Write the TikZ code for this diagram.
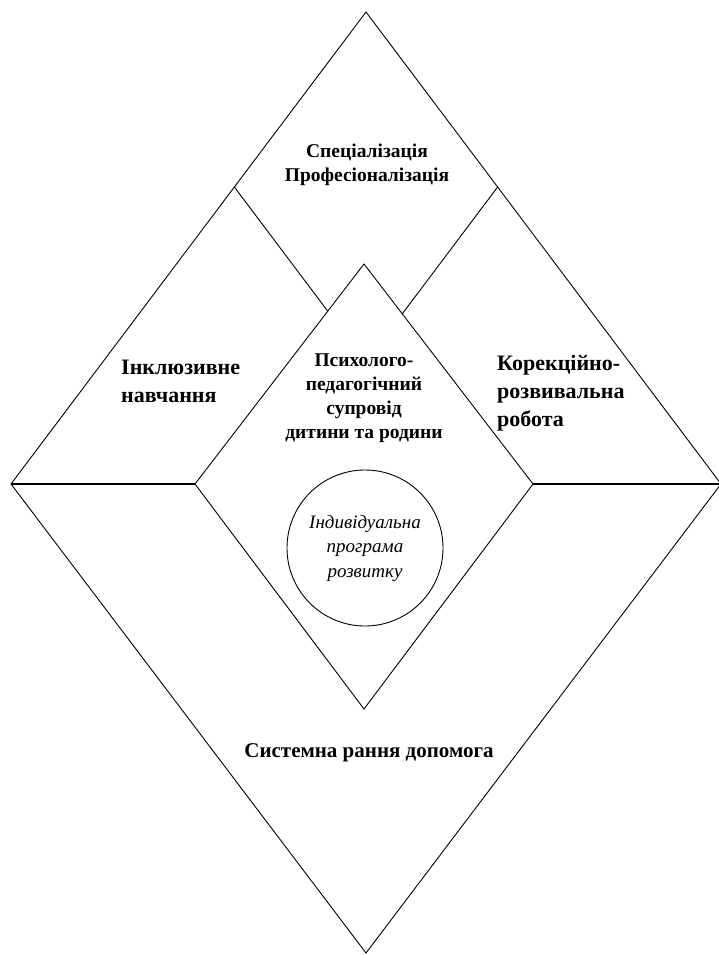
\documentclass[tikz,border=0pt]{standalone}
\usepackage{fontspec}
\setmainfont{Liberation Serif}
\usetikzlibrary{calc}
\begin{document}
\begin{tikzpicture}[x=1pt,y=-1pt,
  frame/.style={draw=black,line width=0.9pt,line join=miter},
  divider/.style={draw=black,line width=1.3pt},
  boldlabel/.style={font=\bfseries\fontsize{22}{28}\selectfont,align=left,inner sep=0pt},
  midlabel/.style={font=\bfseries\fontsize{19.5}{24}\selectfont,align=center,inner sep=0pt},
  circlabel/.style={font=\itshape\fontsize{19}{24.5}\selectfont,align=center,inner sep=0pt}]
\useasboundingbox (0,0) rectangle (718,955);
% outer diamond
\coordinate (OT) at (366,12);
\coordinate (OL) at (11,484);
\coordinate (OR) at (721,484);
\coordinate (OB) at (366,953);
% inner diamond
\coordinate (IT) at (364,264);
\coordinate (IL) at (195,484);
\coordinate (IR) at (533,484);
\coordinate (IB) at (364,709);
% break points on outer upper edges
\coordinate (UL) at ($(OT)!0.3708!(OL)$);
\coordinate (UR) at ($(OT)!0.3708!(OR)$);
\coordinate (ULd) at ($(UL)+(OR)-(OT)$);
\coordinate (URd) at ($(UR)+(OL)-(OT)$);
\coordinate (JL) at (intersection of UL--ULd and IT--IL);
\coordinate (JR) at (intersection of UR--URd and IT--IR);
\draw[frame] (OT) -- (OR) -- (OB) -- (OL) -- cycle;
\draw[frame] (IT) -- (IR) -- (IB) -- (IL) -- cycle;
\draw[frame] (UL) -- (JL);
\draw[frame] (UR) -- (JR);
\draw[divider] (OL) -- (IL);
\draw[divider] (IR) -- (OR);
\node[draw=black,line width=0.9pt,circle,minimum size=156pt,inner sep=0pt] (circ) at (365,548) {};
% labels
\node[midlabel] (spec) at (367,165) {Спеціалізація\\Професіоналізація};
\node[boldlabel,anchor=west] (incl) at (121,381.5) {Інклюзивне\\навчання};
\node[boldlabel,anchor=west] (korr) at (497,393.5) {Корекційно-\\розвивальна\\робота};
\node[midlabel] (psych) at (364,398.5) {Психолого-\\педагогічний\\супровід\\дитини та родини};
\node[circlabel] (prog) at (circ.center) {Індивідуальна\\програма\\розвитку};
\node[boldlabel,font=\bfseries\fontsize{21}{26}\selectfont] (rann) at (369,753) {Системна рання допомога};
\end{tikzpicture}
\end{document}
